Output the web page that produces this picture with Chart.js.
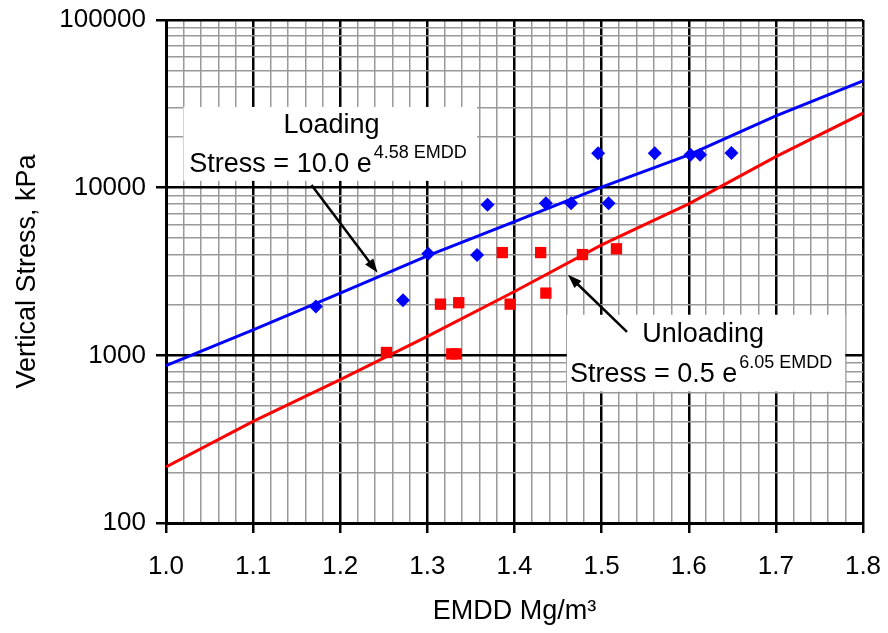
<!DOCTYPE html>
<html>
<head>
<meta charset="utf-8">
<script src="https://cdn.jsdelivr.net/npm/chart.js@4.4.1/dist/chart.umd.min.js"></script>
<style>
  body { margin: 0; background: #fff; }
  #wrap { width: 888px; height: 633px; }
</style>
</head>
<body>
<div id="wrap"><canvas id="chart" width="888" height="633"></canvas></div>
<script>
// Loading points (blue diamonds)
var loadEmdd   = [1.172, 1.272, 1.301, 1.357, 1.369, 1.436, 1.465, 1.496, 1.508, 1.561, 1.602, 1.613, 1.649];
var loadStress = [1955, 2130, 4030, 3960, 7900, 8070, 8070, 16060, 8070, 16060, 15700, 15700, 16100];

// Unloading points (red squares)
var unloadEmdd   = [1.253, 1.328, 1.333, 1.315, 1.336, 1.386, 1.395, 1.430, 1.436, 1.478, 1.517];
var unloadStress = [1040, 1020, 1020, 2020, 2060, 4100, 2020, 4100, 2350, 3990, 4320];

// fitted curves
var fitEmdd    = [1.0, 1.1, 1.2, 1.3, 1.4, 1.5, 1.6, 1.7, 1.8];
var loadFit    = [867, 1420, 2350, 3925, 6280, 10070, 15690, 26800, 43300];
var unloadFit  = [216, 404, 716, 1297, 2404, 4560, 8000, 15320, 27800];

// axis labels
var xTickLabels = ['1.0', '1.1', '1.2', '1.3', '1.4', '1.5', '1.6', '1.7', '1.8'];
var yTickLabels = [100, 1000, 10000, 100000];

function toPoints(xs, ys) {
    var out = [];
    for (var i = 0; i < xs.length; i++) out.push({ x: xs[i], y: ys[i] });
    return out;
}

// grid positions: 0.02 steps on x, 1..9 per decade on y
var xGrid = [];
for (var i = 0; i < xTickLabels.length - 1; i++) {
    for (var j = 0; j < 5; j++) xGrid.push(Math.round((parseFloat(xTickLabels[i]) + j * 0.02) * 100) / 100);
}
xGrid.push(parseFloat(xTickLabels[xTickLabels.length - 1]));

var yGrid = [];
for (var d = 0; d < yTickLabels.length - 1; d++) {
    for (var m = 1; m < 10; m++) yGrid.push(yTickLabels[d] * m);
}
yGrid.push(yTickLabels[yTickLabels.length - 1]);

function isDecade(v) { var l = Math.log10(v); return Math.abs(l - Math.round(l)) < 1e-9; }
function isTenth(v) { return Math.abs(v * 10 - Math.round(v * 10)) < 1e-6; }

// drop the label overflow padding so the plot box sits where layout.padding says
function noOverflow(s) {
    s.paddingTop = 0; s.paddingBottom = 0; s.paddingLeft = 0; s.paddingRight = 0;
}

var FONT = '"Liberation Sans", Arial, sans-serif';

// text boxes + arrows, placed in data units
var notes = [
    { box: [1.020, 30300, 1.357, 10980], title: 'Loading', titleAt: [1.190, 21200],
      eq: 'Stress = 10.0 e', sup: '4.58 EMDD', eqAt: [1.0268, 12400],
      arrow: [1.167, 10390, 1.2429, 3107] },
    { box: [1.4601, 1746, 1.7796, 607], title: 'Unloading', titleAt: [1.6165, 1205],
      eq: 'Stress = 0.5 e', sup: '6.05 EMDD', eqAt: [1.4636, 697],
      arrow: [1.5291, 1382, 1.4613, 3022] }
];

var notePlugin = {
    id: 'notes',
    afterDatasetsDraw: function (chart) {
        var ctx = chart.ctx, xs = chart.scales.x, ys = chart.scales.y;
        ctx.save();
        notes.forEach(function (n) {
            var x0 = xs.getPixelForValue(n.box[0]), y0 = ys.getPixelForValue(n.box[1]);
            var x1 = xs.getPixelForValue(n.box[2]), y1 = ys.getPixelForValue(n.box[3]);
            ctx.fillStyle = '#fff';
            ctx.fillRect(x0, y0, x1 - x0, y1 - y0);

            ctx.fillStyle = '#000';
            ctx.textBaseline = 'alphabetic';
            ctx.font = '27px ' + FONT;
            ctx.textAlign = 'center';
            ctx.fillText(n.title, xs.getPixelForValue(n.titleAt[0]), ys.getPixelForValue(n.titleAt[1]));

            ctx.textAlign = 'left';
            var ex = xs.getPixelForValue(n.eqAt[0]), ey = ys.getPixelForValue(n.eqAt[1]);
            ctx.fillText(n.eq, ex, ey);
            var w = ctx.measureText(n.eq).width;
            ctx.font = '18px ' + FONT;
            ctx.fillText(n.sup, ex + w + 2, ey - 14);

            // arrow
            var ax = xs.getPixelForValue(n.arrow[0]), ay = ys.getPixelForValue(n.arrow[1]);
            var bx = xs.getPixelForValue(n.arrow[2]), by = ys.getPixelForValue(n.arrow[3]);
            var ang = Math.atan2(by - ay, bx - ax);
            ctx.strokeStyle = '#000';
            ctx.lineWidth = 2.5;
            ctx.beginPath();
            ctx.moveTo(ax, ay);
            ctx.lineTo(bx - 10 * Math.cos(ang), by - 10 * Math.sin(ang));
            ctx.stroke();
            ctx.beginPath();
            ctx.moveTo(bx, by);
            ctx.lineTo(bx - 14 * Math.cos(ang) + 5 * Math.sin(ang), by - 14 * Math.sin(ang) - 5 * Math.cos(ang));
            ctx.lineTo(bx - 14 * Math.cos(ang) - 5 * Math.sin(ang), by - 14 * Math.sin(ang) + 5 * Math.cos(ang));
            ctx.closePath();
            ctx.fill();
        });
        ctx.restore();
    }
};

new Chart(document.getElementById('chart'), {
    type: 'scatter',
    data: {
        datasets: [{
            label: 'Loading fit',
            type: 'line',
            data: toPoints(fitEmdd, loadFit),
            borderColor: '#0000ff',
            borderWidth: 3,
            pointRadius: 0,
            fill: false
        }, {
            label: 'Unloading fit',
            type: 'line',
            data: toPoints(fitEmdd, unloadFit),
            borderColor: '#ff0000',
            borderWidth: 3,
            pointRadius: 0,
            fill: false
        }, {
            label: 'Loading',
            data: toPoints(loadEmdd, loadStress),
            pointStyle: 'rectRot',
            pointRadius: 7,
            backgroundColor: '#0000ff',
            borderColor: '#0000ff',
            borderWidth: 0
        }, {
            label: 'Unloading',
            data: toPoints(unloadEmdd, unloadStress),
            pointStyle: 'rect',
            pointRadius: 8,
            backgroundColor: '#ff0000',
            borderColor: '#ff0000',
            borderWidth: 0
        }]
    },
    options: {
        responsive: false,
        animation: false,
        layout: { padding: { left: 0, top: 20, right: 25, bottom: 0 } },
        plugins: {
            legend: { display: false },
            tooltip: { enabled: false }
        },
        scales: {
            x: {
                type: 'linear',
                min: 1.0,
                max: 1.8,
                afterBuildTicks: function (s) { s.ticks = xGrid.map(function (v) { return { value: v }; }); },
                afterFit: function (s) { s.height = 110; noOverflow(s); },
                grid: {
                    color: function (c) { return isTenth(c.tick.value) ? '#000' : '#999'; },
                    lineWidth: function (c) { return isTenth(c.tick.value) ? 2.5 : 1.5; },
                    tickColor: function (c) { return isTenth(c.tick.value) ? '#000' : 'rgba(0,0,0,0)'; },
                    tickLength: 10,
                    tickWidth: 2.5
                },
                border: { color: '#000', width: 3 },
                ticks: {
                    autoSkip: false,
                    maxRotation: 0,
                    padding: 18,
                    color: '#000',
                    font: { family: FONT, size: 26 },
                    callback: function (v) {
                        if (!isTenth(v)) return '';
                        return xTickLabels[Math.round((v - 1.0) * 10)];
                    }
                },
                title: {
                    display: true,
                    text: 'EMDD Mg/m³',
                    color: '#000',
                    font: { family: FONT, size: 27 },
                    padding: { top: 0, bottom: 5 }
                }
            },
            y: {
                type: 'logarithmic',
                min: 100,
                max: 100000,
                afterBuildTicks: function (s) { s.ticks = yGrid.map(function (v) { return { value: v }; }); },
                afterFit: function (s) { s.width = 166; noOverflow(s); },
                grid: {
                    color: function (c) { return isDecade(c.tick.value) ? '#000' : '#999'; },
                    lineWidth: function (c) { return isDecade(c.tick.value) ? 2.5 : 1.5; },
                    tickColor: function (c) { return isDecade(c.tick.value) ? '#000' : 'rgba(0,0,0,0)'; },
                    tickLength: 10,
                    tickWidth: 2.5
                },
                border: { color: '#000', width: 3 },
                ticks: {
                    autoSkip: false,
                    padding: 10,
                    color: '#000',
                    font: { family: FONT, size: 26 },
                    callback: function (v) { return isDecade(v) ? String(v) : ''; }
                },
                title: {
                    display: true,
                    text: 'Vertical Stress, kPa',
                    color: '#000',
                    font: { family: FONT, size: 27 },
                    padding: { top: 11, bottom: 0 }
                }
            }
        }
    },
    plugins: [notePlugin]
});
</script>
</body>
</html>
